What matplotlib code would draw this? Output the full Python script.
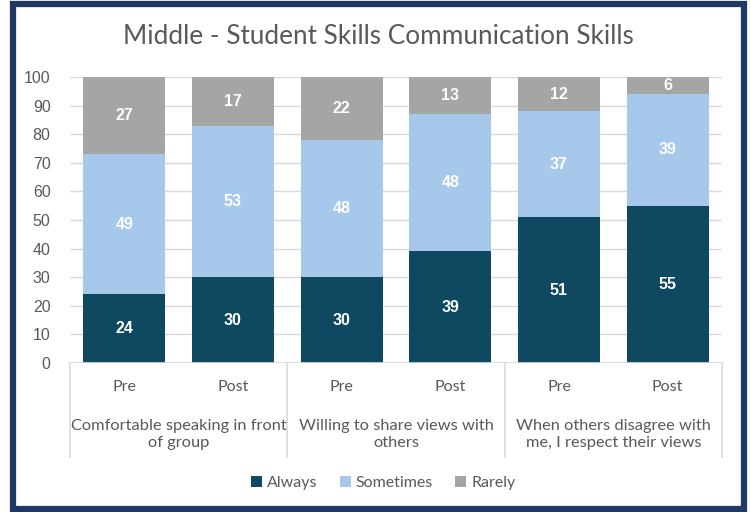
import numpy as np
import matplotlib.pyplot as plt
from matplotlib.patches import Rectangle
from matplotlib.lines import Line2D

plt.rcParams['font.family'] = ['Lato', 'DejaVu Sans']

groups = ["Comfortable speaking in front\nof group",
          "Willing to share views with\nothers",
          "When others disagree with\nme, I respect their views"]
periods = ["Pre", "Post"]
always = [24, 30, 30, 39, 51, 55]
sometimes = [49, 53, 48, 48, 37, 39]
rarely = [27, 17, 22, 13, 12, 6]

c_always = "#0E4861"
c_some = "#A6C8EA"
c_rare = "#A5A5A5"
txt = "#595959"

fig = plt.figure(figsize=(7.51, 5.12), dpi=100)
ax = fig.add_axes([70/751, 1-363/512, 652/751, 286/512])

x = np.arange(6)
w = 0.755
b1 = ax.bar(x, always, w, color=c_always, label="Always", zorder=3)
b2 = ax.bar(x, sometimes, w, bottom=always, color=c_some, label="Sometimes", zorder=3)
bot3 = np.array(always) + np.array(sometimes)
b3 = ax.bar(x, rarely, w, bottom=bot3, color=c_rare, label="Rarely", zorder=3)
for bars in (b1, b2, b3):
    ax.bar_label(bars, label_type="center", color="white", fontsize=11.5,
                 fontweight="bold", family="Liberation Sans")

ax.set_xlim(-0.5, 5.5)
ax.set_ylim(0, 100)
ax.set_yticks(range(0, 101, 10))
ax.tick_params(axis="y", length=0, labelsize=11.5, labelcolor=txt, pad=14)
for lab in ax.get_yticklabels():
    lab.set_family("Liberation Sans")
ax.tick_params(axis="x", length=0)
ax.set_xticks([])
ax.grid(axis="y", color="#D9D9D9", lw=1, zorder=0)
for s in ax.spines.values():
    s.set_visible(False)
ax.axhline(0, color="#D9D9D9", lw=1.2, zorder=4)

# category axis: period labels, group labels, separators
for i in range(6):
    ax.text(x[i], -0.083, periods[i % 2], transform=ax.get_xaxis_transform(),
            ha="center", va="center", fontsize=11.5, color=txt)
for g in range(3):
    ax.text(2*g + 0.5, -0.25, groups[g], transform=ax.get_xaxis_transform(),
            ha="center", va="center", fontsize=11.8, color=txt, linespacing=1.25)
for xs in [-0.5, 1.5, 3.5, 5.5]:
    ax.add_line(Line2D([xs, xs], [0, -0.329], transform=ax.get_xaxis_transform(),
                       color="#D9D9D9", lw=1.2, clip_on=False))

fig.text(378/751, 1-37/512, "Middle - Student Skills Communication Skills",
         ha="center", va="center", fontsize=18.8, color=txt)

fig.legend(handles=[b1, b2, b3], loc="center", bbox_to_anchor=(383/751, 1-483/512),
           ncol=3, frameon=False, fontsize=11.5, labelcolor=txt,
           handlelength=0.7, handleheight=0.7, handletextpad=0.3, columnspacing=1.4)

fig.patches.append(Rectangle((13/751, 3/512), 731/751, 505/512, transform=fig.transFigure,
                             fill=False, edgecolor="#1F3864", lw=4.5))

fig.savefig("out.png", dpi=100)
